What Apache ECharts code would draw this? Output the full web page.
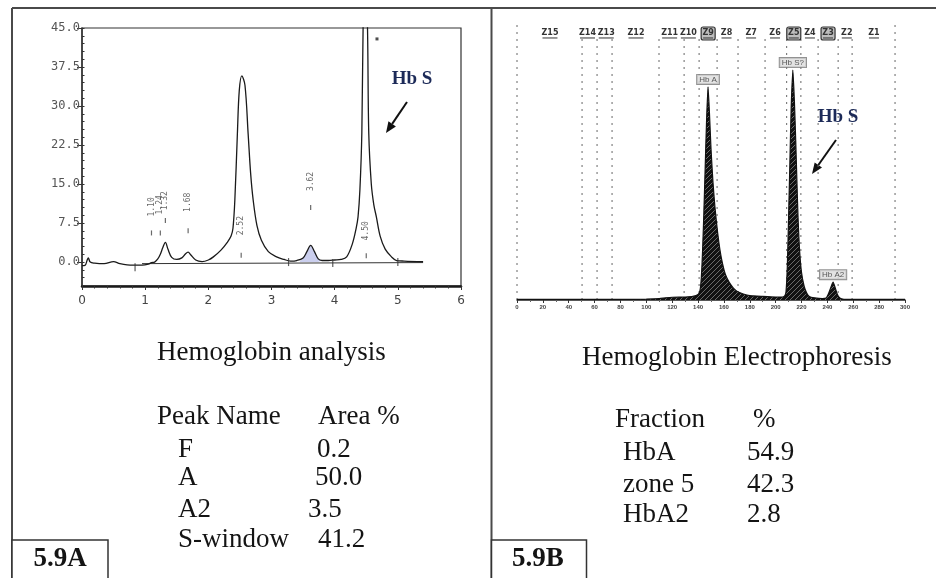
<!DOCTYPE html>
<html>
<head>
<meta charset="utf-8">
<script src="https://cdn.jsdelivr.net/npm/echarts@6/dist/echarts.min.js"></script>
<style>
  html, body { margin: 0; padding: 0; background: #ffffff; }
  #chart { width: 936px; height: 578px; }
</style>
</head>
<body>
<div id="chart"></div>
<script>
// ---- HPLC chromatogram (retention time in minutes, detector signal) ----
const hplcTime = [0, 0.05, 0.08, 0.10, 0.13, 0.2, 0.35, 0.5, 0.6, 0.8, 0.95, 1.05, 1.10, 1.15, 1.20, 1.24, 1.28, 1.32, 1.36, 1.42, 1.5, 1.58, 1.64, 1.68, 1.72, 1.8, 1.9, 2.0, 2.08, 2.2, 2.3, 2.36, 2.39, 2.42, 2.46, 2.49, 2.53, 2.58, 2.63, 2.67, 2.71, 2.77, 2.84, 2.95, 3.08, 3.2, 3.3, 3.4, 3.5, 3.56, 3.62, 3.68, 3.74, 3.8, 3.9, 4.0, 4.1, 4.19, 4.28, 4.34, 4.37, 4.40, 4.43, 4.45, 4.485, 4.52, 4.54, 4.58, 4.62, 4.66, 4.72, 4.8, 4.9, 4.98, 5.1, 5.4];
const hplcSignal = [-0.7, -0.6, 0.3, 0.8, 0.0, -0.2, -0.3, 0.1, -0.3, -0.6, -0.6, -0.4, -0.1, 0.0, 0.6, 1.5, 2.8, 3.8, 2.5, 0.9, 0.5, 0.8, 1.6, 1.9, 1.4, 0.4, 0.1, 0.4, 1.0, 2.3, 3.8, 5.0, 6.5, 12, 24.7, 33, 35.8, 34, 24.7, 17, 11.9, 7, 4.2, 2.0, 1.0, 0.5, 0.2, 0.3, 0.8, 2.0, 3.2, 2.0, 0.6, 0.3, 0.3, 0.4, 0.5, 1.0, 3.5, 6.5, 8.7, 14, 24.7, 45, 60, 45, 24.7, 15, 11, 8.7, 5, 2.5, 1.0, 0.3, 0.2, 0.1];
// A2 window shaded area
const a2Time = [3.45, 3.5, 3.56, 3.62, 3.68, 3.74, 3.80];
const a2Signal = [0.2, 0.8, 2.0, 3.2, 2.0, 0.6, 0.3];
// Integration baseline and its event marks
const baseTime = [0.95, 5.4];
const baseSignal = [-0.3, -0.1];
const eventTime = [0.84, 3.27, 3.97, 5.0];
const eventSignal = [-1.0, 0.0, -0.2, 0.0];
// Peak retention times, label heights and mark heights
const peakTimes = [1.10, 1.24, 1.32, 1.68, 2.52, 3.62, 4.50];
const peakLabelY = [10.6, 11.0, 11.8, 11.5, 7.0, 15.5, 6.0];
const peakMarkY = [5.6, 5.6, 8.0, 6.0, 1.3, 10.5, 1.2];
const hplcYTicks = [0, 7.5, 15, 22.5, 30, 37.5, 45];

// ---- Capillary electrophoresis trace (migration position, signal) ----
const ceX = [0, 20, 40, 60, 80, 100, 110, 115, 120, 130, 136, 140, 141.5, 142.5, 143.5, 144.5, 145.5, 146.5, 147.7, 148.8, 150, 151.5, 153, 155, 157, 159, 161, 164, 167, 170, 175, 180, 190, 200, 205, 207, 208, 209, 210, 211, 212, 213.3, 214.5, 215.5, 216.5, 217.3, 218.5, 220, 222, 224, 226, 230, 236, 239, 241, 243, 244.4, 246, 247.5, 249, 251, 255, 270, 285, 300];
const ceY = [0.2, 0.2, 0.2, 0.2, 0.2, 0.3, 0.5, 0.8, 1.0, 1.1, 1.3, 2.0, 3.5, 8, 18, 32, 48, 64, 77.5, 68, 55, 43, 34, 25, 18, 13, 9.5, 6.5, 4.5, 3.2, 2.2, 1.6, 1.3, 1.1, 1.1, 1.5, 3, 12, 30, 50, 70, 83.6, 72, 58, 42, 30, 18, 10, 5, 2.5, 1.3, 0.8, 0.5, 0.7, 2.5, 5, 6.5, 4.5, 2.3, 1.0, 0.4, 0.2, 0.2, 0.2, 0.2];
const zoneBounds = [0, 50.3, 61.9, 73.5, 109.8, 129.2, 140.8, 154.7, 170.9, 191.8, 208.5, 219.5, 232.8, 248.3, 259.1, 292.3];
const zoneNames = ['Z15', 'Z14', 'Z13', 'Z12', 'Z11', 'Z10', 'Z9', 'Z8', 'Z7', 'Z6', 'Z5', 'Z4', 'Z3', 'Z2', 'Z1'];
const zoneCenters = [25.5, 54.5, 69.0, 92.0, 118.0, 132.5, 147.8, 162.0, 181.0, 199.5, 214.0, 226.5, 240.5, 255.0, 276.0];
const zoneBoxed = ['Z9', 'Z5', 'Z3'];
const cePeakNames = ['Hb A', 'Hb S?', 'Hb A2'];
const cePeakX = [147.7, 213.3, 244.4];
const cePeakY = [77.5, 83.6, 6.5];

// ---- Result tables ----
const hplcPeakNames = ['F', 'A', 'A2', 'S-window'];
const hplcAreaPct = ['0.2', '50.0', '3.5', '41.2'];
const ceFractions = ['HbA', 'zone 5', 'HbA2'];
const cePct = ['54.9', '42.3', '2.8'];

const zip = (xs, ys) => xs.map((x, i) => [x, ys[i]]);

// Hatched fill for the electrophoresis peaks
function hatchPattern() {
  const c = document.createElement('canvas');
  c.width = 5; c.height = 5;
  const g = c.getContext('2d');
  g.fillStyle = '#111';
  g.fillRect(0, 0, 5, 5);
  g.strokeStyle = '#6a6a6a';
  g.lineWidth = 1;
  g.beginPath();
  g.moveTo(0, 5); g.lineTo(5, 0);
  g.stroke();
  return c;
}

function arrow(x1, y1, x2, y2, color) {
  const dx = x2 - x1, dy = y2 - y1, len = Math.hypot(dx, dy);
  const ux = dx / len, uy = dy / len;
  const bx = x2 - ux * 11, by = y2 - uy * 11;
  const px = -uy * 4.5, py = ux * 4.5;
  return [
    { type: 'line', shape: { x1: x1, y1: y1, x2: bx, y2: by }, style: { stroke: color, lineWidth: 2 } },
    { type: 'polygon', shape: { points: [[x2, y2], [bx + px, by + py], [bx - px, by - py]] }, style: { fill: color } }
  ];
}

const serif = '"Liberation Serif", "Times New Roman", serif';
function txt(text, x, y, size, opts) {
  opts = opts || {};
  return {
    type: 'text', x: x, y: y, z: 10,
    style: {
      text: text,
      font: (opts.bold ? 'bold ' : '') + size + 'px ' + serif,
      fill: opts.fill || '#141414',
      align: opts.align || 'left',
      verticalAlign: 'middle',
      textShadowColor: opts.shadow || 'transparent',
      textShadowOffsetX: opts.shadow ? -1 : 0,
      textShadowBlur: 0
    }
  };
}

const hbStyle = { bold: true, fill: '#1c2a58', shadow: 'rgba(225,140,40,0.55)' };
const TS = 27;

const graphics = [
  // panel frame
  { type: 'line', shape: { x1: 12, y1: 8, x2: 936, y2: 8 }, style: { stroke: '#4a4a4a', lineWidth: 2 } },
  { type: 'line', shape: { x1: 12, y1: 8, x2: 12, y2: 578 }, style: { stroke: '#4a4a4a', lineWidth: 2 } },
  { type: 'line', shape: { x1: 491.5, y1: 8, x2: 491.5, y2: 578 }, style: { stroke: '#4a4a4a', lineWidth: 2 } },
  { type: 'rect', shape: { x: 12, y: 540, width: 96, height: 45 }, style: { fill: '#fff', stroke: '#333', lineWidth: 1.5 } },
  { type: 'rect', shape: { x: 491.5, y: 540, width: 95, height: 45 }, style: { fill: '#fff', stroke: '#333', lineWidth: 1.5 } },
  txt('5.9A', 60, 559, 27, { bold: true, align: 'center' }),
  txt('5.9B', 538, 559, 27, { bold: true, align: 'center' }),
  // left table
  txt('Hemoglobin analysis', 157, 353, TS),
  txt('Peak Name', 157, 417, TS),
  txt('Area %', 318, 417, TS),
  // right table
  txt('Hemoglobin Electrophoresis', 582, 358, TS),
  txt('Fraction', 615, 420, TS),
  txt('%', 753, 420, TS),
  // Hb S callouts
  txt('Hb S', 412, 79, 19, Object.assign({ align: 'center' }, hbStyle)),
  txt('Hb S', 838, 117, 19, Object.assign({ align: 'center' }, hbStyle))
].concat(arrow(407, 102, 386, 133, '#111'), arrow(836, 140, 812, 174, '#111'));

const hplcRowY = [450, 478, 510, 540];
const hplcValX = [317, 315, 308, 318];
hplcPeakNames.forEach((n, i) => {
  graphics.push(txt(n, 178, hplcRowY[i], TS));
  graphics.push(txt(hplcAreaPct[i], hplcValX[i], hplcRowY[i], TS));
});
const ceRowY = [453, 485, 515];
ceFractions.forEach((n, i) => {
  graphics.push(txt(n, 623, ceRowY[i], TS));
  graphics.push(txt(cePct[i], 747, ceRowY[i], TS));
});

const minorY = [];
for (let i = 0; i <= 33; i++) minorY.push(Math.round((-4.5 + 1.5 * i) * 10) / 10);

const mono = '"DejaVu Sans Mono", monospace';

const option = {
  animation: false,
  backgroundColor: '#ffffff',
  grid: [
    { left: 82, right: 475, top: 28, bottom: 292, show: true, borderColor: '#333', borderWidth: 1.2, backgroundColor: 'transparent' },
    { left: 517, right: 31, top: 25, bottom: 278 }
  ],
  xAxis: [
    {
      gridIndex: 0, type: 'value', min: 0, max: 6, interval: 1,
      axisLine: { show: true, onZero: false, lineStyle: { color: '#1a1a1a', width: 2.5 } },
      axisTick: { show: true, length: 4, lineStyle: { color: '#333' } },
      minorTick: { show: true, splitNumber: 5, length: 2.5, lineStyle: { color: '#333' } },
      axisLabel: { fontSize: 12, color: '#444', margin: 9, fontFamily: 'DejaVu Sans' },
      splitLine: { show: false }
    },
    {
      gridIndex: 1, type: 'value', min: 0, max: 300, interval: 20,
      axisLine: { show: true, onZero: false, lineStyle: { color: '#222', width: 1.5 } },
      axisTick: { show: true, length: 3, lineStyle: { color: '#333' } },
      minorTick: { show: true, splitNumber: 2, length: 2, lineStyle: { color: '#666' } },
      axisLabel: { fontSize: 6, fontWeight: 'bold', color: '#444', margin: 4 },
      splitLine: { show: false }
    }
  ],
  yAxis: [
    {
      gridIndex: 0, type: 'value', min: -4.6, max: 45,
      axisLine: { show: true, onZero: false, lineStyle: { color: '#333', width: 1.5 } },
      axisTick: { show: true, length: 5, customValues: hplcYTicks, lineStyle: { color: '#333' } },
      axisLabel: { customValues: hplcYTicks, formatter: v => v.toFixed(1), fontSize: 12, fontFamily: mono, color: '#555', margin: 2 },
      splitLine: { show: false }
    },
    {
      gridIndex: 0, type: 'value', min: -4.6, max: 45, position: 'left',
      axisLine: { show: false },
      axisTick: { show: true, inside: true, length: 2.5, customValues: minorY, lineStyle: { color: '#333' } },
      axisLabel: { show: false },
      splitLine: { show: false }
    },
    { gridIndex: 1, type: 'value', min: 0, max: 100, show: false }
  ],
  series: [
    {
      name: 'A2 window', type: 'line', xAxisIndex: 0, yAxisIndex: 0,
      data: zip(a2Time, a2Signal), smooth: 0.3, symbol: 'none',
      lineStyle: { width: 0 }, areaStyle: { color: 'rgba(120,130,210,0.55)', origin: 0 }, z: 2
    },
    {
      name: 'Baseline', type: 'line', xAxisIndex: 0, yAxisIndex: 0,
      data: zip(baseTime, baseSignal), symbol: 'none',
      lineStyle: { color: '#333', width: 1 }, z: 3
    },
    {
      name: 'Chromatogram', type: 'line', xAxisIndex: 0, yAxisIndex: 0,
      data: zip(hplcTime, hplcSignal), smooth: 0.35, symbol: 'none',
      lineStyle: { color: '#1a1a1a', width: 1.3 }, z: 4
    },
    {
      name: 'Events', type: 'scatter', xAxisIndex: 0, yAxisIndex: 0,
      data: zip(eventTime, eventSignal), symbol: 'rect', symbolSize: [1.2, 8],
      itemStyle: { color: '#333' }, z: 4
    },
    {
      name: 'Peak marks', type: 'scatter', xAxisIndex: 0, yAxisIndex: 0,
      data: zip(peakTimes, peakMarkY), symbol: 'rect', symbolSize: [1.2, 5],
      itemStyle: { color: '#444' }, z: 4
    },
    {
      name: 'Peak labels', type: 'scatter', xAxisIndex: 0, yAxisIndex: 0,
      data: zip(peakTimes, peakLabelY), symbolSize: 0,
      label: {
        show: true, position: 'inside', rotate: 90, fontSize: 8, fontFamily: mono,
        color: '#444', formatter: p => p.value[0].toFixed(2)
      }, z: 5
    },
    {
      name: 'Marker', type: 'scatter', xAxisIndex: 0, yAxisIndex: 0,
      data: [[4.67, 42.9]], symbol: 'rect', symbolSize: 3,
      itemStyle: { color: '#222' }
    },
    {
      name: 'Zone bounds', type: 'custom', xAxisIndex: 1, yAxisIndex: 2,
      data: zoneBounds.map(v => [v]),
      renderItem: function (params, api) {
        const x = api.value(0);
        const top = (x === 0 || x > 290) ? 100 : 95;
        const p0 = api.coord([x, 0]);
        const p1 = api.coord([x, top]);
        return {
          type: 'line',
          shape: { x1: p0[0], y1: p0[1], x2: p1[0], y2: p1[1] },
          style: { stroke: '#666', lineWidth: 1, lineDash: [2, 5] }
        };
      }, z: 1
    },
    {
      name: 'Electropherogram', type: 'line', xAxisIndex: 1, yAxisIndex: 2,
      data: zip(ceX, ceY), smooth: 0.2, symbol: 'none',
      lineStyle: { color: '#111', width: 1.2 },
      areaStyle: { color: { image: hatchPattern(), repeat: 'repeat' }, opacity: 1, origin: 0 }, z: 3
    },
    {
      name: 'CE peaks', type: 'scatter', xAxisIndex: 1, yAxisIndex: 2,
      data: cePeakX.map((x, i) => ({ value: [x, cePeakY[i]], name: cePeakNames[i] })),
      symbolSize: 0,
      label: {
        show: true, position: 'top', distance: 3, formatter: '{b}',
        fontSize: 8, color: '#333', backgroundColor: '#dcdcdc',
        borderColor: '#777', borderWidth: 1, padding: [1, 2, 0, 2]
      }, z: 6
    },
    {
      name: 'Zones', type: 'custom', xAxisIndex: 1, yAxisIndex: 2,
      data: zoneCenters.map(v => [v, 97.1]),
      clip: false,
      renderItem: function (params, api) {
        const i = params.dataIndex;
        const name = zoneNames[i];
        const p = api.coord([api.value(0), api.value(1)]);
        const w = name.length * 5;
        const kids = [
          { type: 'text', style: { text: name, x: p[0], y: p[1], align: 'center', verticalAlign: 'middle', font: 'bold 8px "DejaVu Sans"', fill: '#333' } },
          { type: 'line', shape: { x1: p[0] - w / 2, y1: p[1] + 5, x2: p[0] + w / 2, y2: p[1] + 5 }, style: { stroke: '#333', lineWidth: 1 } }
        ];
        if (zoneBoxed.indexOf(name) >= 0) {
          kids.unshift({ type: 'rect', shape: { x: p[0] - w / 2 - 2, y: p[1] - 6, width: w + 4, height: 13, r: 2 }, style: { fill: '#bdbdbd', stroke: '#333', lineWidth: 1.2 } });
        }
        return { type: 'group', children: kids };
      }, z: 6
    }
  ],
  graphic: graphics
};

const chart = echarts.init(document.getElementById('chart'), null, { renderer: 'canvas' });
chart.setOption(option);
</script>
</body>
</html>
